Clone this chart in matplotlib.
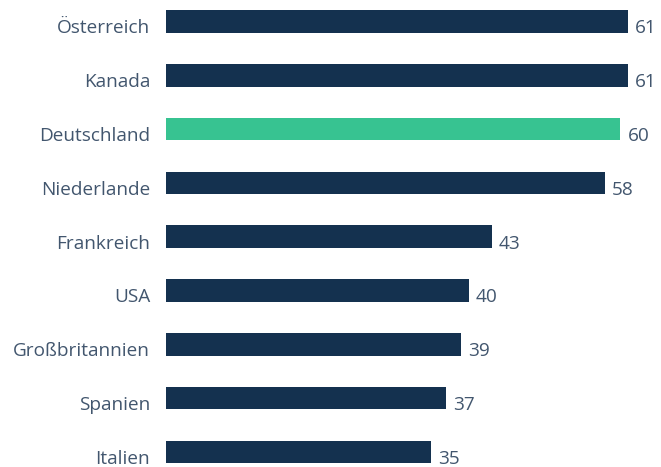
import matplotlib
matplotlib.use("Agg")
import matplotlib.pyplot as plt

categories = ["Österreich", "Kanada", "Deutschland", "Niederlande", "Frankreich",
              "USA", "Großbritannien", "Spanien", "Italien"]
values = [61, 61, 60, 58, 43, 40, 39, 37, 35]
highlight = "Deutschland"

navy = "#14314f"
green = "#37c391"
text_color = "#42566e"

plt.rcParams['font.family'] = ['Open Sans', 'DejaVu Sans']

fig = plt.figure(figsize=(6.61, 4.67), dpi=100)
W, H = 661, 467
ax = fig.add_axes([166 / W, 0, 1 - 166 / W, 1])

bar_h = 0.42
colors = [green if c == highlight else navy for c in categories]
ys = list(range(len(categories)))
ax.barh(ys, values, height=bar_h, color=colors, left=0)

px_per_unit = (628 - 166) / 61
ax.set_xlim(0, (W - 166) / px_per_unit)
spacing = (452 - 21.5) / 8
ax.set_ylim(8 + (H - 452) / spacing, -21.5 / spacing)

for y, v, c in zip(ys, values, categories):
    ax.text(v + 7 / px_per_unit, y + bar_h / 2 + 0.01, str(v), va='baseline', ha='left',
            fontsize=13.7, color=text_color, clip_on=False)
    ax.text(-16 / px_per_unit, y + bar_h / 2 + 0.01, c, va='baseline', ha='right',
            fontsize=13.7, color=text_color, clip_on=False)

ax.axis('off')
fig.savefig("out.png", dpi=100)
